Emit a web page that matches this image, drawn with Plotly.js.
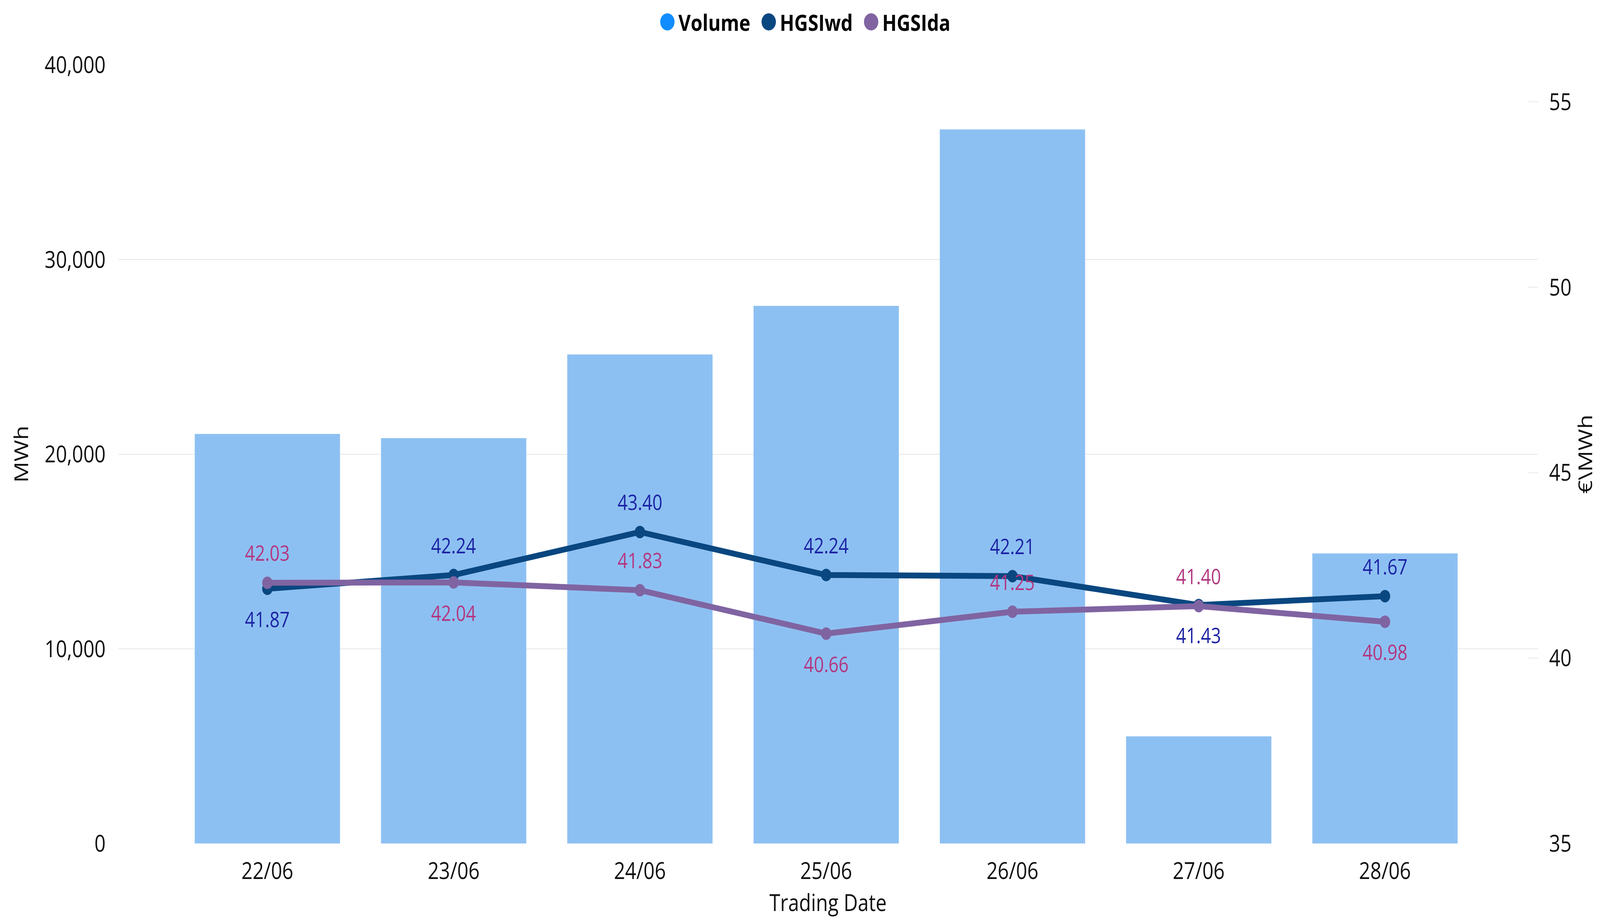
<!DOCTYPE html>
<html>
<head>
<meta charset="utf-8">
<script src="https://cdn.plot.ly/plotly-3.0.1.min.js"></script>
<style>html,body{margin:0;padding:0;background:#fff;overflow:hidden;}#chart{position:absolute;left:0;top:0;width:4907px;height:2356px;transform-origin:0 0;}</style>
</head>
<body>
<div id="chart"></div>
<script>
// ---- data ----
const tradingDates = ["22/06", "23/06", "24/06", "25/06", "26/06", "27/06", "28/06"];
const volumeMWh = [21040, 20820, 25120, 27620, 36680, 5500, 14900];
const hgsiWd = [41.87, 42.24, 43.40, 42.24, 42.21, 41.43, 41.67];
const hgsiDa = [42.03, 42.04, 41.83, 40.66, 41.25, 41.40, 40.98];
const leftTicks = [0, 10000, 20000, 30000, 40000];
const rightTicks = [35, 40, 45, 50, 55];
const seriesNames = ["Volume", "HGSIwd", "HGSIda"];

// ---- label placement (style) ----
const wdLabelSide = [-1, 1, 1, 1, 1, -1, 1];
const daLabelSide = [1, -1, 1, -1, 1, 1, -1];

// chart is laid out at the reference size and fitted to the window
const REF_W = 4907, REF_H = 2356;
const el = document.getElementById("chart");
const fx = (window.innerWidth || REF_W) / REF_W;
const fy = (window.innerHeight || REF_H) / REF_H;
el.style.transform = "scale(" + fx + "," + fy + ")";

const FONT = "'Open Sans', 'Noto Sans', sans-serif";
const C_BAR = "#8DC0F2", C_VOL = "#118DFF", C_WD = "#0A4780", C_DA = "#8064A2";
const C_WD_LBL = "#1C22A3", C_DA_LBL = "#B3377F";
const LEG_FONT = 58;
const pad = "\u00a0\u00a0\u00a0";

const traces = [
  {type: "bar", x: tradingDates, y: volumeMWh, name: seriesNames[0], marker: {color: C_BAR}, showlegend: false, yaxis: "y", hoverinfo: "skip"},
  {type: "scatter", mode: "lines+markers", x: tradingDates, y: hgsiWd, name: seriesNames[1], yaxis: "y2",
   line: {color: C_WD, width: 15}, marker: {color: C_WD, size: 32}, showlegend: false, hoverinfo: "skip"},
  {type: "scatter", mode: "lines+markers", x: tradingDates, y: hgsiDa, name: seriesNames[2], yaxis: "y2",
   line: {color: C_DA, width: 15}, marker: {color: C_DA, size: 32}, showlegend: false, hoverinfo: "skip"},
  // legend entries (circle symbols)
  {type: "scatter", mode: "markers", x: [null], y: [null], name: seriesNames[0] + pad, marker: {color: C_VOL, size: 16}, showlegend: true, hoverinfo: "skip"},
  {type: "scatter", mode: "markers", x: [null], y: [null], name: seriesNames[1] + pad, marker: {color: C_WD, size: 16}, showlegend: true, hoverinfo: "skip"},
  {type: "scatter", mode: "markers", x: [null], y: [null], name: seriesNames[2], marker: {color: C_DA, size: 16}, showlegend: true, hoverinfo: "skip"}
];

const annotations = [];
tradingDates.forEach((d, i) => {
  annotations.push({x: d, y: hgsiWd[i], xref: "x", yref: "y2", text: hgsiWd[i].toFixed(2), showarrow: false,
    yshift: 77 * wdLabelSide[i], font: {family: FONT, size: 54, color: C_WD_LBL}});
  annotations.push({x: d, y: hgsiDa[i], xref: "x", yref: "y2", text: hgsiDa[i].toFixed(2), showarrow: false,
    yshift: 77 * daLabelSide[i], font: {family: FONT, size: 54, color: C_DA_LBL}});
});

const tickFont = {family: FONT, size: 60, color: "#111"};
const layout = {
  width: REF_W, height: REF_H,
  paper_bgcolor: "#fff", plot_bgcolor: "#fff",
  margin: {l: 363, r: 191, t: 160, b: 196},
  font: {family: FONT, size: 60, color: "#111"},
  bargap: 0.22,
  showlegend: true,
  legend: {orientation: "h", x: 0.4865, xanchor: "center", y: 1.055, yanchor: "middle",
    font: {family: FONT, size: LEG_FONT, color: "#000", weight: "bold"}, itemwidth: 30, traceorder: "normal"},
  xaxis: {type: "category", range: [-0.8, 6.82], showgrid: false, zeroline: false, showline: false,
    ticks: "", tickfont: tickFont, ticklabelstandoff: 30,
    title: {text: "Trading Date", font: tickFont, standoff: 22}, fixedrange: true},
  yaxis: {range: [0, 40000], tickvals: leftTicks, tickformat: ",", showgrid: true, gridcolor: "#EFEEEC", gridwidth: 3,
    zeroline: false, showline: false, ticks: "", tickfont: tickFont, ticklabelstandoff: 38,
    title: {text: "MWh", font: tickFont, standoff: 30}, fixedrange: true},
  yaxis2: {overlaying: "y", side: "right", range: [35, 56], tickvals: rightTicks, showgrid: false, zeroline: false,
    showline: false, ticks: "inside", ticklen: 28, tickwidth: 3, tickcolor: "#EFEEEC",
    tickfont: tickFont, ticklabelstandoff: 34,
    title: {text: "€\\MWh", font: tickFont, standoff: 18}, fixedrange: true},
  annotations: annotations,
  hovermode: false
};

Plotly.newPlot(el, traces, layout, {staticPlot: true, displayModeBar: false}).then(gd => {
  gd.querySelectorAll(".legend [clip-path]").forEach(n => n.removeAttribute("clip-path"));
  gd.querySelectorAll(".legend .legendpoints path").forEach(p => {
    p.setAttribute("transform", "translate(6,0) scale(2.75)");
  });
});
</script>
</body>
</html>
